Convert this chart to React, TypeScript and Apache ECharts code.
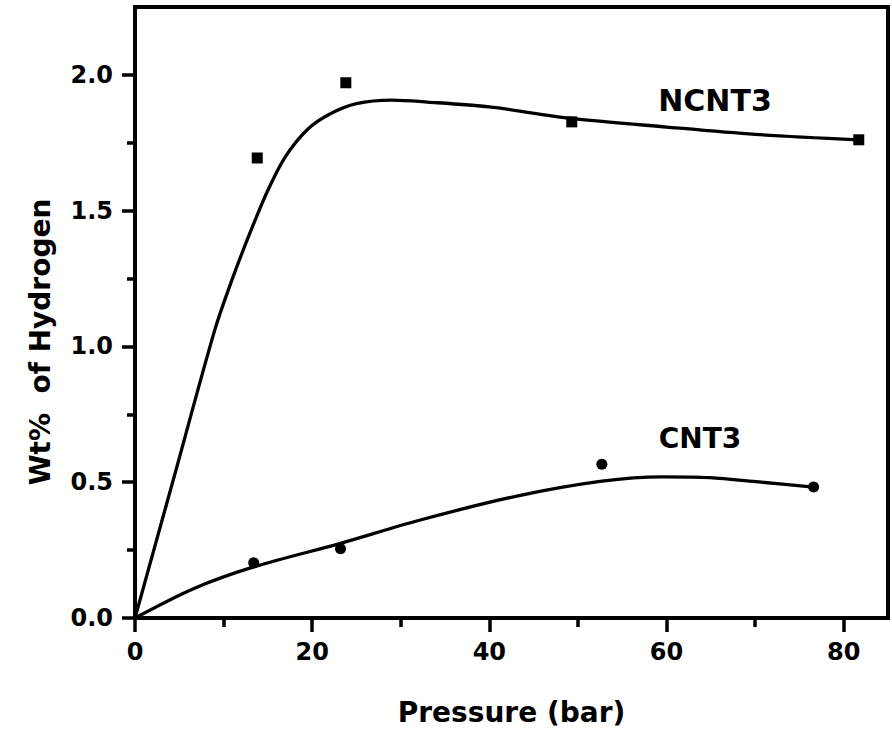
import React, { useEffect, useRef } from "react";
import * as echarts from "echarts";

// Measured data points (Pressure in bar, Wt% of hydrogen)
const ncntPressure = [13.8, 23.8, 49.3, 81.7];
const ncntWt = [1.694, 1.971, 1.827, 1.761];
const cntPressure = [13.4, 23.2, 52.7, 76.6];
const cntWt = [0.203, 0.255, 0.566, 0.482];

// Fitted curves
const ncntFitX = [0, 4.5, 9, 11, 13, 15, 17, 19.5, 22, 25, 29, 33, 40, 49, 60, 70, 81.7];
const ncntFitY = [0, 0.53, 1.06, 1.25, 1.42, 1.575, 1.7, 1.8, 1.856, 1.894, 1.907, 1.9, 1.882, 1.841, 1.808, 1.781, 1.761];
const cntFitX = [0, 6.6, 13.4, 23.2, 32.1, 43.1, 52.7, 59.5, 64.9, 70.4, 76.6];
const cntFitY = [0, 0.108, 0.188, 0.275, 0.36, 0.449, 0.504, 0.52, 0.517, 0.501, 0.482];

const xTicks = [0, 20, 40, 60, 80];
const xMinorTicks = [10, 30, 50, 70];
const yTicks = [0, 0.5, 1.0, 1.5, 2.0];
const yMinorTicks = [0.25, 0.75, 1.25, 1.75];

const seriesLabels = ["NCNT3", "CNT3"];
const xTitle = "Pressure (bar)";
const yTitle = "Wt%  of Hydrogen";

const FONT = "DejaVu Sans";

export default function App() {
  const ref = useRef<HTMLDivElement>(null);
  useEffect(() => {
    if (!ref.current) return;
    const chart = echarts.init(ref.current, undefined, { renderer: "svg" });
    const zip = (a: number[], b: number[]) => a.map((v, i) => [v, b[i]]);
    const labelStyle = { fontFamily: FONT, fontWeight: "bold" as const, fontSize: 24, color: "#000" };
    const axisLine = { show: true, lineStyle: { color: "#000", width: 4 } };
    chart.setOption({
      animation: false,
      backgroundColor: "#fff",
      grid: {
        left: 135,
        right: 4,
        top: 7,
        bottom: 116,
        show: true,
        borderColor: "#000",
        borderWidth: 4,
      },
      xAxis: [
        {
          type: "value",
          min: 0,
          max: 85,
          position: "bottom",
          splitLine: { show: false },
          axisLine,
          axisTick: { show: true, inside: false, length: 14, customValues: xTicks, lineStyle: { color: "#000", width: 3.5 } },
          axisLabel: { ...labelStyle, margin: 22, customValues: xTicks, formatter: (v: number) => String(v) },
          name: xTitle,
          nameLocation: "middle",
          nameGap: 80,
          nameTextStyle: { fontFamily: FONT, fontWeight: "bold", fontSize: 28, color: "#000" },
        },
        {
          type: "value",
          min: 0,
          max: 85,
          position: "bottom",
          splitLine: { show: false },
          axisLine,
          axisTick: { show: true, inside: false, length: 9, customValues: xMinorTicks, lineStyle: { color: "#000", width: 3.5 } },
          axisLabel: { show: false },
        },
      ],
      yAxis: [
        {
          type: "value",
          min: 0,
          max: 2.25,
          position: "left",
          splitLine: { show: false },
          axisLine,
          axisTick: { show: true, inside: false, length: 13, customValues: yTicks, lineStyle: { color: "#000", width: 3.5 } },
          axisLabel: { ...labelStyle, margin: 22, customValues: yTicks, formatter: (v: number) => v.toFixed(1) },
        },
        {
          type: "value",
          min: 0,
          max: 2.25,
          position: "left",
          splitLine: { show: false },
          axisLine,
          axisTick: { show: true, inside: false, length: 8, customValues: yMinorTicks, lineStyle: { color: "#000", width: 3.5 } },
          axisLabel: { show: false },
        },
      ],
      graphic: [
        {
          type: "text",
          x: 40,
          y: 342,
          rotation: Math.PI / 2,
          style: {
            text: yTitle,
            fontFamily: FONT,
            fontWeight: "bold",
            fontSize: 28,
            fill: "#000",
            textAlign: "center",
            textVerticalAlign: "middle",
          },
        },
        {
          type: "text",
          x: 715,
          y: 100,
          style: {
            text: seriesLabels[0],
            fontFamily: FONT,
            fontWeight: "bold",
            fontSize: 30,
            fill: "#000",
            textAlign: "center",
            textVerticalAlign: "middle",
          },
        },
        {
          type: "text",
          x: 700,
          y: 438,
          style: {
            text: seriesLabels[1],
            fontFamily: FONT,
            fontWeight: "bold",
            fontSize: 28,
            fill: "#000",
            textAlign: "center",
            textVerticalAlign: "middle",
          },
        },
      ],
      series: [
        {
          name: seriesLabels[0] + " fit",
          type: "line",
          data: zip(ncntFitX, ncntFitY),
          smooth: 0.3,
          showSymbol: false,
          symbol: "none",
          lineStyle: { color: "#000", width: 3.3 },
        },
        {
          name: seriesLabels[1] + " fit",
          type: "line",
          data: zip(cntFitX, cntFitY),
          smooth: 0.3,
          showSymbol: false,
          symbol: "none",
          lineStyle: { color: "#000", width: 3.3 },
        },
        {
          name: seriesLabels[0],
          type: "scatter",
          data: zip(ncntPressure, ncntWt),
          symbol: "rect",
          symbolSize: 11,
          itemStyle: { color: "#000", opacity: 1 },
        },
        {
          name: seriesLabels[1],
          type: "scatter",
          data: zip(cntPressure, cntWt),
          symbol: "circle",
          symbolSize: 11,
          itemStyle: { color: "#000", opacity: 1 },
        },
      ],
    });
    return () => chart.dispose();
  }, []);
  return (
    <div
      ref={ref}
      style={{ position: "fixed", left: 0, top: 0, width: 892, height: 734, background: "#fff" }}
    />
  );
}
